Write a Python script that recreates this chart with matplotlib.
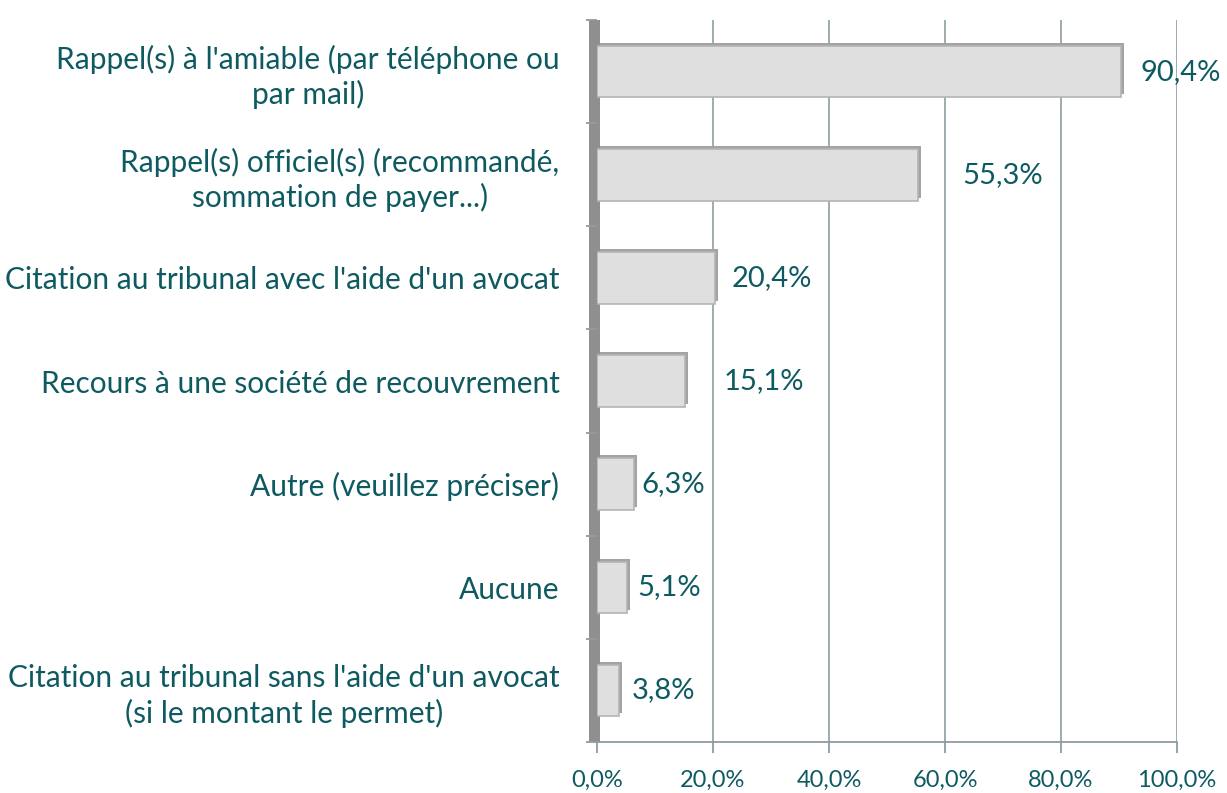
import matplotlib.pyplot as plt
import matplotlib.transforms as mtransforms
from matplotlib.patches import Rectangle
import numpy as np

plt.rcParams['font.family'] = ['Lato', 'DejaVu Sans']

categories = [
    "Rappel(s) à l'amiable (par téléphone ou\npar mail)",
    "Rappel(s) officiel(s) (recommandé,\nsommation de payer...)",
    "Citation au tribunal avec l'aide d'un avocat",
    "Recours à une société de recouvrement",
    "Autre (veuillez préciser)",
    "Aucune",
    "Citation au tribunal sans l'aide d'un avocat\n(si le montant le permet)",
]
values = [90.4, 55.3, 20.4, 15.1, 6.3, 5.1, 3.8]
value_labels = ["90,4%", "55,3%", "20,4%", "15,1%", "6,3%", "5,1%", "3,8%"]
xticks = [0, 20, 40, 60, 80, 100]
xtick_labels = ["0,0%", "20,0%", "40,0%", "60,0%", "80,0%", "100,0%"]

# label offsets in points (3D chart puts them unevenly)
label_pad = [14, 32, 12, 28, 6, 8, 9]

text_color = "#0E5A61"
grid_color = "#8E9DA2"

fig = plt.figure(figsize=(12.27, 7.93), dpi=100)
ax = fig.add_axes([597 / 1227, 1 - 742 / 793, 580 / 1227, 722 / 793])

y = np.arange(len(categories))
ax.set_xlim(0, 100)
ax.set_ylim(len(categories) - 0.5, -0.5)

for x in xticks[1:]:
    ax.axvline(x, color=grid_color, lw=1.2, zorder=0)

# shadow (depth) behind the bars
shadow = mtransforms.offset_copy(ax.transData, fig=fig, x=3, y=3, units='dots')
ax.barh(y, values, height=0.5, color="#A3A3A3", transform=shadow, zorder=2)
ax.barh(y, values, height=0.5, color="#DFDFDF", edgecolor="#B4B4B4",
        linewidth=1.2, zorder=3)

# left wall
wall = Rectangle((-1.3, -0.5), 1.8, len(categories), transform=ax.transData,
                 facecolor="#8F8F8F", edgecolor="none", clip_on=False, zorder=1)
ax.add_patch(wall)

for yi, v, lab, pad in zip(y, values, value_labels, label_pad):
    ax.annotate(lab, (v, yi), xytext=(pad, 0), textcoords='offset points',
                va='center', ha='left', fontsize=21, color=text_color)

ax.set_yticks(y)
ax.set_yticklabels(categories, fontsize=21.5, color=text_color,
                   multialignment='center', linespacing=1.25)
ax.set_yticks(np.arange(-0.5, len(categories)), minor=True)
ax.tick_params(axis='y', which='major', length=0, pad=27)
ax.tick_params(axis='y', which='minor', length=8, color=grid_color, width=1.3)

ax.set_xticks(xticks)
ax.set_xticklabels(xtick_labels, fontsize=17, color=text_color)
ax.tick_params(axis='x', length=8, color=grid_color, width=1.3, pad=12)

for s in ['top', 'right', 'left']:
    ax.spines[s].set_visible(False)
ax.spines['bottom'].set_color(grid_color)
ax.spines['bottom'].set_linewidth(1.3)

fig.savefig("out.png", dpi=100)
